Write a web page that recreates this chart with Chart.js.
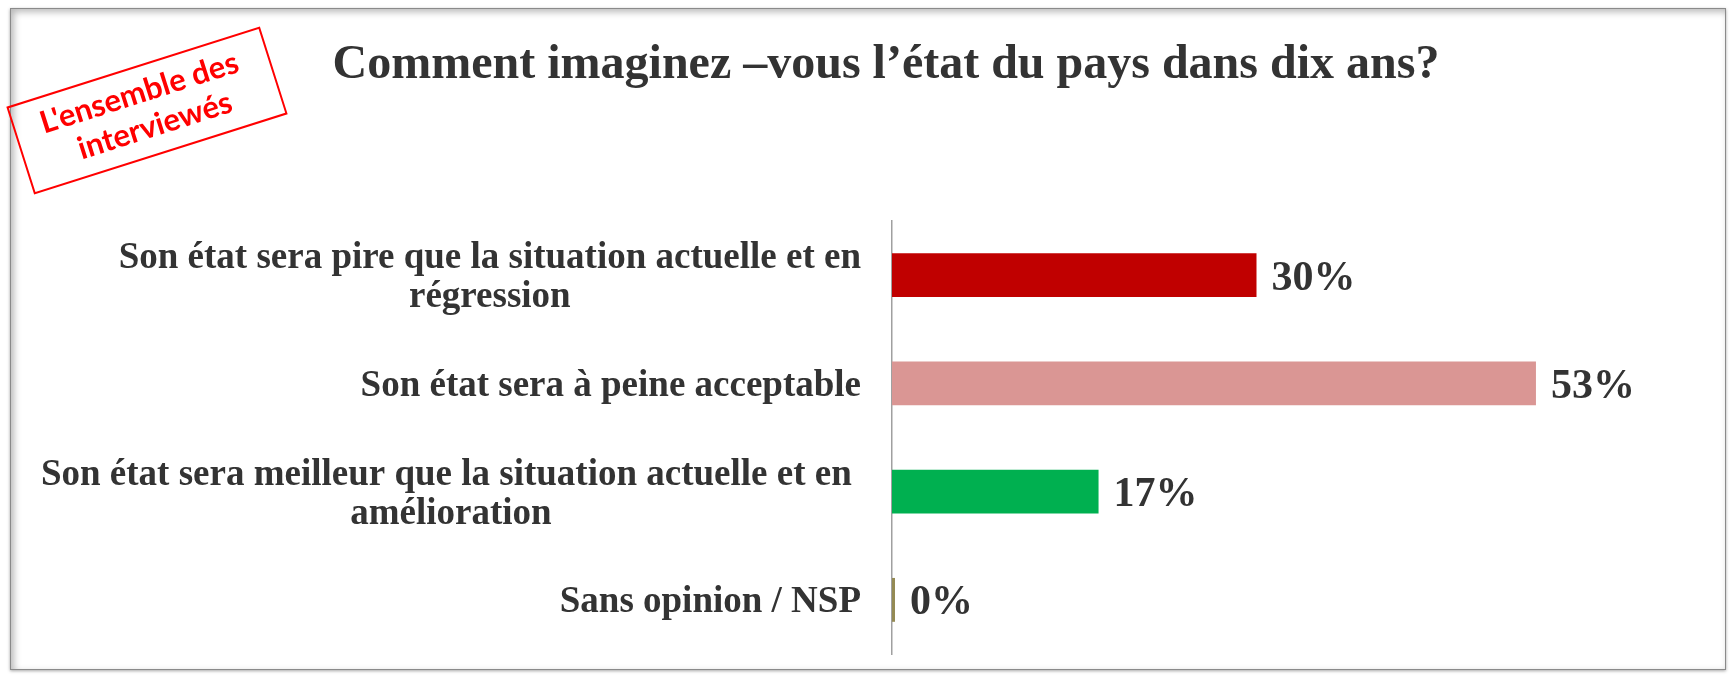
<!DOCTYPE html>
<html><head><meta charset="utf-8">
<script src="https://cdn.jsdelivr.net/npm/chart.js@4.4.1/dist/chart.umd.min.js"></script>
<style>
html,body{margin:0;padding:0;background:#fff;}
#wrap{position:relative;width:1730px;height:680px;overflow:hidden;}
#frame{position:absolute;left:10px;top:8px;width:1714px;height:660px;border:1px solid #8a8a8a;box-shadow:inset 3px 3px 7px rgba(0,0,0,0.28), 0 1px 3px rgba(0,0,0,0.35);background:#fff;}
canvas{position:absolute;left:0;top:0;}
</style></head><body>
<div id="wrap"><div id="frame"></div><canvas id="c" width="1730" height="680"></canvas></div>
<script>
const chartTitle = "Comment imaginez –vous l’état du pays dans dix ans?";
const stampLines = ["L'ensemble des", "interviewés"];
const categories = [
  ["Son état sera pire que la situation actuelle et en", "régression"],
  ["Son état sera à peine acceptable"],
  ["Son état sera meilleur que la situation actuelle et en ", "amélioration"],
  ["Sans opinion / NSP"]
];
const values = [30, 53, 17, 0];
const barColors = ["#C00000", "#DA9694", "#00B050", "#948A54"];
const axisMax = 60;

const SERIF = "'Liberation Serif', 'Times New Roman', serif";
const TEXT = "#333333";

const drawPlugin = {
  id: 'customText',
  afterDraw(chart) {
    const ctx = chart.ctx;
    const area = chart.chartArea;
    const yScale = chart.scales.y;
    ctx.save();
    // Title
    ctx.fillStyle = TEXT;
    ctx.font = "bold 48px " + SERIF;
    ctx.textAlign = 'center';
    ctx.textBaseline = 'alphabetic';
    ctx.fillText(chartTitle, 886, 78);

    // Category labels
    ctx.font = "bold 37px " + SERIF;
    const rightX = area.left - 31;
    const lh = 39;
    categories.forEach((lines, i) => {
      const yc = yScale.getPixelForValue(i);
      const w = Math.max(...lines.map(l => ctx.measureText(l).width));
      const cx = rightX - w / 2;
      const n = lines.length;
      lines.forEach((line, j) => {
        const by = yc + 12.5 + (j - (n - 1) / 2) * lh;
        ctx.textAlign = 'center';
        ctx.fillText(line, cx, by);
      });
    });

    // Data labels
    ctx.font = "bold 42px " + SERIF;
    ctx.textAlign = 'left';
    const meta = chart.getDatasetMeta(0);
    meta.data.forEach((bar, i) => {
      ctx.fillText(values[i] + '%', bar.x + 15, bar.y + 14.5);
    });

    // Stamp
    ctx.translate(147, 110.5);
    ctx.rotate(-17.6 * Math.PI / 180);
    ctx.strokeStyle = '#FF0000';
    ctx.lineWidth = 2;
    ctx.strokeRect(-132, -45, 264, 90);
    ctx.fillStyle = '#FF0000';
    ctx.font = "bold 31px Lato, 'Open Sans', sans-serif";
    ctx.textAlign = 'center';
    ctx.fillText(stampLines[0], -2, -9);
    ctx.fillText(stampLines[1], 3, 27);
    ctx.restore();
  }
};

new Chart(document.getElementById('c'), {
  type: 'bar',
  data: {
    labels: categories,
    datasets: [{
      data: values,
      backgroundColor: barColors,
      borderWidth: 0,
      categoryPercentage: 1,
      barPercentage: 0.405,
      minBarLength: 3
    }]
  },
  options: {
    indexAxis: 'y',
    responsive: false,
    animation: false,
    devicePixelRatio: 1,
    layout: { padding: { top: 221, bottom: 26, right: 109, left: 0 } },
    plugins: { legend: { display: false }, tooltip: { enabled: false }, title: { display: false } },
    scales: {
      x: { display: false, min: 0, max: axisMax },
      y: {
        grid: { display: false },
        border: { display: true, color: '#A0A0A0', width: 1.5 },
        ticks: { display: false },
        afterFit(scale) { scale.width = 892; }
      }
    }
  },
  plugins: [drawPlugin]
});
</script>
</body></html>
